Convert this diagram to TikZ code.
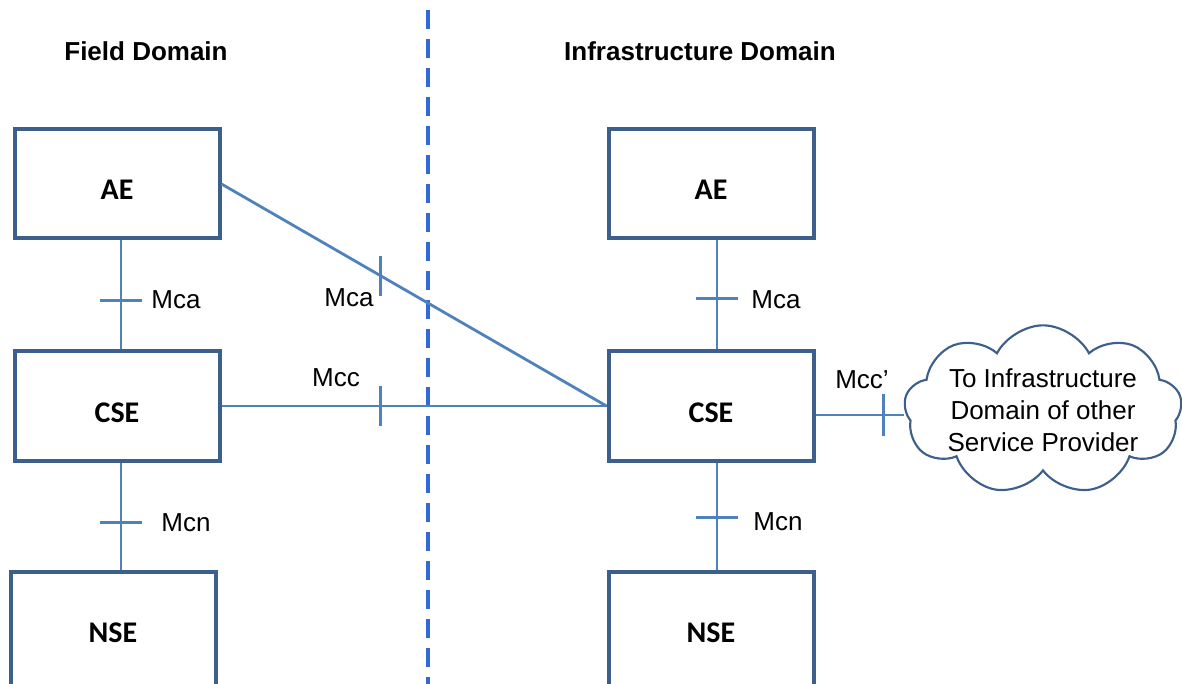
\documentclass[tikz,border=0pt]{standalone}
\usepackage{fontspec}
\setmainfont{Liberation Sans}
\newfontfamily\calibri{Carlito}
\usetikzlibrary{shapes.symbols}

\definecolor{boxblue}{RGB}{60,95,140}
\definecolor{linkblue}{RGB}{79,129,189}
\definecolor{dashblue}{RGB}{50,105,215}

\begin{document}
\begin{tikzpicture}[x=0.75pt, y=-0.75pt]
    \tikzstyle{box} = [rectangle, draw=boxblue, line width=3pt, minimum width=153.75pt, minimum height=81.75pt, inner sep=0pt, text height=24pt, text depth=0pt, font=\calibri\bfseries\fontsize{22.5}{27}\selectfont]
    \tikzstyle{nse} = [minimum height=91.5pt, text height=14.5pt]
    \tikzstyle{title} = [font=\bfseries\fontsize{19.5}{24}\selectfont]
    \tikzstyle{lbl} = [inner sep=0pt, font=\fontsize{19.5}{24}\selectfont]
    \tikzstyle{link} = [draw=linkblue, line width=2.1pt]
    \tikzstyle{divider} = [draw=dashblue, line width=2.5pt, dash pattern=on 14.25pt off 7.5pt]

    \useasboundingbox (0,0) rectangle (1182,684);

    \node[title] (fd) at (146,51) {Field Domain};
    \node[title] (id) at (700,51) {Infrastructure Domain};

    \coordinate (dtop) at (428,10);
    \coordinate (dbot) at (428,700);
    \draw[divider] (dtop) -- (dbot);

    \node[box] (fae) at (117,184) {AE};
    \node[box] (fcse) at (117,406) {CSE};
    \node[box, nse] (fnse) at (113,633) {NSE};

    \node[box] (iae) at (711,184) {AE};
    \node[box] (icse) at (711,406) {CSE};
    \node[box, nse] (inse) at (711,633) {NSE};

    \node[cloud, cloud puffs=9, cloud puff arc=125, cloud ignores aspect, draw=boxblue, line width=1.6pt, minimum width=204pt, minimum height=127pt, align=center, inner sep=0pt, font=\fontsize{19.5}{24}\selectfont] (cld) at (1043,410) {To Infrastructure\\Domain of other\\Service Provider};

    % field domain
    \draw[link] ([xshift=3pt]fae.south) -- coordinate[pos=.55] (t1) ([xshift=3pt]fcse.north);
    \draw[link] ([xshift=-15.75pt]t1) -- ([xshift=15.75pt]t1);
    \draw[link] ([xshift=3pt]fcse.south) -- coordinate[pos=.56] (t2) ([xshift=6pt]fnse.north);
    \draw[link] ([xshift=-15.75pt]t2) -- ([xshift=15.75pt]t2);

    % across the domains
    \draw[link] (fae.east) -- coordinate[pos=.413] (t3) (icse.west);
    \draw[link] ([yshift=-15pt]t3) -- ([yshift=15pt]t3);
    \draw[link] (fcse) -- coordinate[pos=.413] (t4) (icse);
    \draw[link] ([yshift=-15pt]t4) -- ([yshift=15pt]t4);

    % infrastructure domain
    \draw[link] ([xshift=4.5pt]iae.south) -- coordinate[pos=.53] (t5) ([xshift=4.5pt]icse.north);
    \draw[link] ([xshift=-15.75pt]t5) -- ([xshift=15.75pt]t5);
    \draw[link] ([xshift=4.5pt]icse.south) -- coordinate[pos=.51] (t6) ([xshift=4.5pt]inse.north);
    \draw[link] ([xshift=-15.75pt]t6) -- ([xshift=15.75pt]t6);
    \draw[link] ([yshift=-6.75pt]icse.east) -- coordinate[pos=.77] (t7) ([yshift=-6.75pt]icse.east -| cld.west);
    \draw[link] ([yshift=-15.75pt]t7) -- ([yshift=15.75pt]t7);

    \node[lbl] (l1) at (176,300) {Mca};
    \node[lbl] (l2) at (186,523) {Mcn};
    \node[lbl] (l3) at (349,298) {Mca};
    \node[lbl] (l4) at (336,378) {Mcc};
    \node[lbl] (l5) at (776,300) {Mca};
    \node[lbl] (l6) at (778,522) {Mcn};
    \node[lbl] (l7) at (862,380) {Mcc’};
\end{tikzpicture}
\end{document}
